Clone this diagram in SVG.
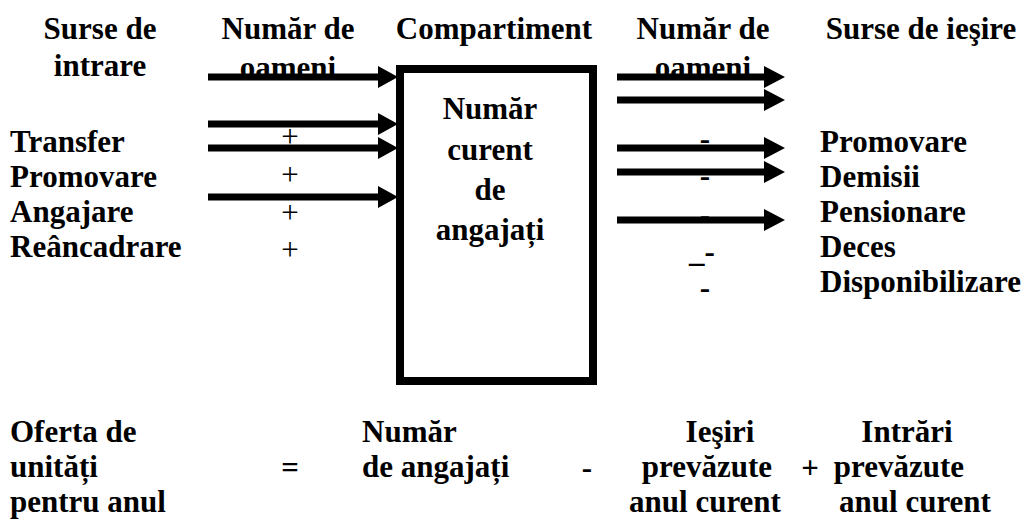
<svg xmlns="http://www.w3.org/2000/svg" width="1029" height="521" viewBox="0 0 1029 521">
  <defs>
    <style>
      .t { font-family: "Liberation Serif", "Times New Roman", Tinos, serif; font-size: 31px; font-weight: bold; fill: #000; }
      .n { font-weight: normal; }
      .c { text-anchor: middle; }
    </style>
  </defs>
  <rect width="1029" height="521" fill="#fff"/>

  <!-- column headers -->
  <g id="headers">
    <text class="t c" x="100" y="39">Surse de</text>
    <text class="t c" x="100" y="76">intrare</text>
    <text class="t c" x="288" y="39">Număr de</text>
    <text class="t c" x="288" y="78">oameni</text>
    <text class="t c" x="494" y="39">Compartiment</text>
    <text class="t c" x="703" y="39">Număr de</text>
    <text class="t c" x="703" y="78">oameni</text>
    <text class="t c" x="921" y="39">Surse de ieşire</text>
  </g>

  <!-- entry sources -->
  <g id="inputs">
    <text class="t" x="10" y="152">Transfer</text>
    <text class="t" x="10" y="187">Promovare</text>
    <text class="t" x="10" y="222">Angajare</text>
    <text class="t" x="10" y="257">Reâncadrare</text>
    <text class="t n c" x="290" y="147">+</text>
    <text class="t n c" x="290" y="185">+</text>
    <text class="t n c" x="290" y="223">+</text>
    <text class="t n c" x="290" y="260">+</text>
  </g>

  <!-- department stock -->
  <g id="compartiment">
    <rect x="400" y="69" width="193" height="312" fill="#fff" stroke="#000" stroke-width="8"/>
    <text class="t c" x="490" y="119">Număr</text>
    <text class="t c" x="490" y="160">curent</text>
    <text class="t c" x="490" y="200">de</text>
    <text class="t c" x="490" y="240">angajați</text>
  </g>

  <!-- exit sources -->
  <g id="outputs">
    <text class="t" x="820" y="152">Promovare</text>
    <text class="t" x="820" y="187">Demisii</text>
    <text class="t" x="820" y="222">Pensionare</text>
    <text class="t" x="820" y="257">Deces</text>
    <text class="t" x="820" y="292">Disponibilizare</text>
    <text class="t c" x="705" y="149">-</text>
    <text class="t c" x="705" y="186">-</text>
    <text class="t c" x="705" y="225">-</text>
    <text class="t" x="689" y="262">_-</text>
    <text class="t c" x="705" y="298">-</text>
  </g>

  <!-- supply equation -->
  <g id="equation">
    <text class="t" x="10" y="442">Oferta de</text>
    <text class="t" x="10" y="477">unități</text>
    <text class="t" x="10" y="512">pentru anul</text>
    <text class="t c" x="290" y="478">=</text>
    <text class="t" x="362" y="442">Număr</text>
    <text class="t" x="362" y="477">de angajați</text>
    <text class="t c" x="587" y="478">-</text>
    <text class="t c" x="720" y="442">Ieşiri</text>
    <text class="t c" x="707" y="477">prevăzute</text>
    <text class="t c" x="705" y="512">anul curent</text>
    <text class="t c" x="907" y="442">Intrări</text>
    <text class="t c" x="810" y="478">+</text>
    <text class="t c" x="899" y="477">prevăzute</text>
    <text class="t c" x="915" y="512">anul curent</text>
  </g>

  <!-- flows into and out of the department: 7px shaft with a solid head -->
  <g id="connectors" fill="#000">
    <path d="M208,73.5 H378 V66 L398,77 L378,88 V80.5 H208 Z"/>
    <path d="M208,120.5 H378 V113 L398,124 L378,135 V127.5 H208 Z"/>
    <path d="M208,144.5 H378 V137 L398,148 L378,159 V151.5 H208 Z"/>
    <path d="M208,193.5 H378 V186 L398,197 L378,208 V200.5 H208 Z"/>
    <path d="M617,73.5 H764 V66 L785,77 L764,88 V80.5 H617 Z"/>
    <path d="M617,96.5 H764 V89 L785,100 L764,111 V103.5 H617 Z"/>
    <path d="M617,144.5 H764 V137 L785,148 L764,159 V151.5 H617 Z"/>
    <path d="M617,168.5 H764 V161 L785,172 L764,183 V175.5 H617 Z"/>
    <path d="M617,216.5 H764 V209 L785,220 L764,231 V223.5 H617 Z"/>
  </g>
</svg>
